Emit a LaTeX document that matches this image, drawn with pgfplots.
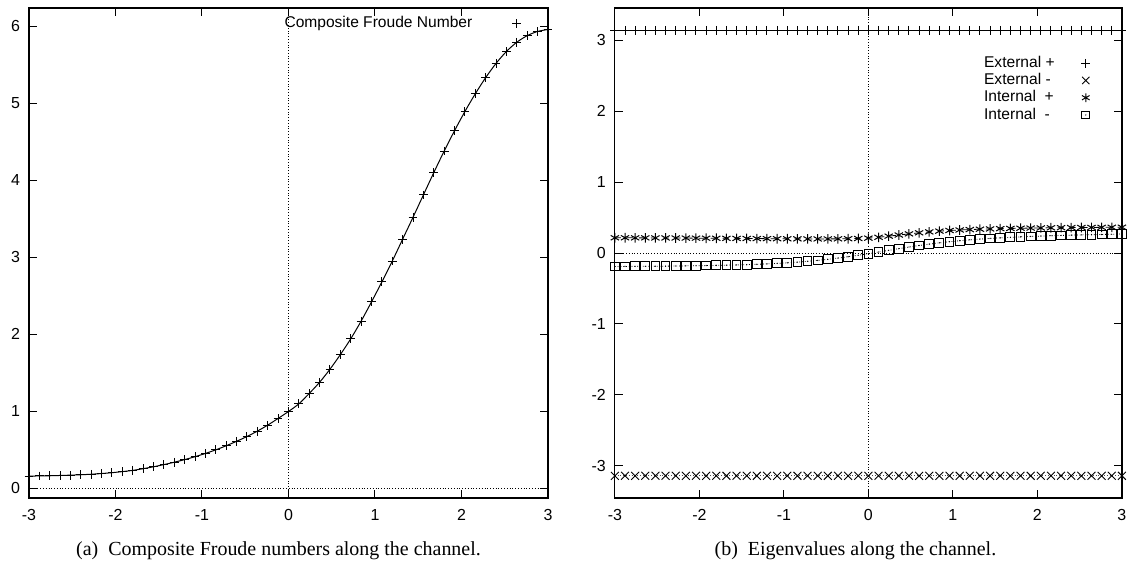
\documentclass[border=0pt]{standalone}
\usepackage{pgfplots}
\pgfplotsset{compat=1.18}
\usepackage{fontspec}
\setmainfont{Liberation Serif}
\newfontfamily\helv{Liberation Sans}
\usetikzlibrary{plotmarks}

\pgfdeclareplotmark{sqdot}{%
  \pgfpathrectangle{\pgfpoint{-\pgfplotmarksize}{-\pgfplotmarksize}}{\pgfpoint{2\pgfplotmarksize}{2\pgfplotmarksize}}%
  \pgfusepathqstroke
  \pgfpathcircle{\pgfpointorigin}{0.35pt}%
  \pgfusepathqfill}

\pgfplotstableread{
x F
-3.00 0.155
-2.88 0.158
-2.76 0.160
-2.64 0.164
-2.52 0.168
-2.40 0.173
-2.28 0.180
-2.16 0.189
-2.04 0.200
-1.92 0.214
-1.80 0.230
-1.68 0.252
-1.56 0.277
-1.44 0.305
-1.32 0.336
-1.20 0.370
-1.08 0.408
-0.96 0.450
-0.84 0.497
-0.72 0.550
-0.60 0.608
-0.48 0.670
-0.36 0.740
-0.24 0.818
-0.12 0.905
0.00 0.995
0.12 1.095
0.24 1.230
0.36 1.375
0.48 1.545
0.60 1.735
0.72 1.940
0.84 2.170
0.96 2.420
1.08 2.680
1.20 2.950
1.32 3.235
1.44 3.520
1.56 3.810
1.68 4.100
1.80 4.380
1.92 4.645
2.04 4.895
2.16 5.125
2.28 5.335
2.40 5.520
2.52 5.675
2.64 5.795
2.76 5.880
2.88 5.935
3.00 5.960
}\froude

\pgfplotstableread{
x Ep Em Ip Im
-3.00 3.1416 -3.1416 0.215 -0.190
-2.88 3.1416 -3.1416 0.215 -0.189
-2.76 3.1416 -3.1416 0.214 -0.188
-2.64 3.1416 -3.1416 0.214 -0.187
-2.52 3.1416 -3.1416 0.213 -0.186
-2.40 3.1416 -3.1416 0.213 -0.185
-2.28 3.1416 -3.1416 0.212 -0.183
-2.16 3.1416 -3.1416 0.211 -0.181
-2.04 3.1416 -3.1416 0.210 -0.179
-1.92 3.1416 -3.1416 0.209 -0.177
-1.80 3.1416 -3.1416 0.208 -0.174
-1.68 3.1416 -3.1416 0.207 -0.171
-1.56 3.1416 -3.1416 0.206 -0.168
-1.44 3.1416 -3.1416 0.205 -0.164
-1.32 3.1416 -3.1416 0.204 -0.159
-1.20 3.1416 -3.1416 0.203 -0.153
-1.08 3.1416 -3.1416 0.202 -0.146
-0.96 3.1416 -3.1416 0.201 -0.138
-0.84 3.1416 -3.1416 0.200 -0.128
-0.72 3.1416 -3.1416 0.199 -0.117
-0.60 3.1416 -3.1416 0.199 -0.104
-0.48 3.1416 -3.1416 0.199 -0.089
-0.36 3.1416 -3.1416 0.200 -0.071
-0.24 3.1416 -3.1416 0.202 -0.052
-0.12 3.1416 -3.1416 0.205 -0.031
0.00 3.1416 -3.1416 0.210 -0.010
0.12 3.1416 -3.1416 0.222 0.014
0.24 3.1416 -3.1416 0.238 0.038
0.36 3.1416 -3.1416 0.254 0.062
0.48 3.1416 -3.1416 0.270 0.085
0.60 3.1416 -3.1416 0.285 0.106
0.72 3.1416 -3.1416 0.298 0.126
0.84 3.1416 -3.1416 0.309 0.144
0.96 3.1416 -3.1416 0.318 0.160
1.08 3.1416 -3.1416 0.325 0.174
1.20 3.1416 -3.1416 0.331 0.186
1.32 3.1416 -3.1416 0.336 0.197
1.44 3.1416 -3.1416 0.340 0.206
1.56 3.1416 -3.1416 0.344 0.214
1.68 3.1416 -3.1416 0.347 0.221
1.80 3.1416 -3.1416 0.350 0.228
1.92 3.1416 -3.1416 0.352 0.234
2.04 3.1416 -3.1416 0.354 0.239
2.16 3.1416 -3.1416 0.356 0.244
2.28 3.1416 -3.1416 0.358 0.248
2.40 3.1416 -3.1416 0.359 0.252
2.52 3.1416 -3.1416 0.360 0.256
2.64 3.1416 -3.1416 0.361 0.259
2.76 3.1416 -3.1416 0.362 0.262
2.88 3.1416 -3.1416 0.363 0.265
3.00 3.1416 -3.1416 0.364 0.268
}\eig

\pgfplotsset{
  gp/.style={
    scale only axis,
    height=245.5pt,
    xmin=-3, xmax=3,
    xtick={-3,-2,-1,0,1,2,3},
    axis line style={line width=0.6pt},
    tick align=inside,
    tick pos=both,
    major tick length=4pt,
    every tick/.style={black, line width=0.5pt},
    minor tick num=0,
    tick label style={font=\helv\fontsize{8}{9}\selectfont},
    /pgf/number format/assume math mode=true,
    yticklabel style={xshift=-1pt},
    xticklabel style={yshift=-2pt},
    clip=false,
    legend plot pos=right,
    legend cell align=left,
    legend style={draw=none, fill=none, font=\helv\fontsize{7.8}{9}\selectfont,
      nodes={text height=6pt, text depth=1.85pt, inner sep=0.4pt},
      row sep=0pt},
  }
}

\begin{document}
\begin{tikzpicture}
\path (0,0) rectangle (566.5pt,287pt);

\begin{axis}[gp,
  at={(14.5pt,37.5pt)}, anchor=south west,
  width=260pt,
  ymin=-0.13, ymax=6.24,
  ytick={0,1,2,3,4,5,6},
  legend style={at={(0.96,0.995)}, anchor=north east, /tikz/column sep=19.5pt},
]
\addplot[black, densely dotted, line width=0.4pt, forget plot] coordinates {(-3,0) (3,0)};
\addplot[black, densely dotted, line width=0.4pt, forget plot] coordinates {(0,-0.13) (0,6.24)};
\addplot[black, line width=0.5pt, no marks, smooth, forget plot] table[x=x, y=F] {\froude};
\addplot[black, only marks, mark=+, mark size=2.2pt, mark options={line width=0.5pt}, forget plot] table[x=x, y=F] {\froude};
\addlegendimage{black, only marks, mark=+, mark size=2.2pt, mark options={line width=0.5pt}}
\addlegendentry{Composite Froude Number}
\end{axis}

\begin{axis}[gp,
  at={(308pt,37.5pt)}, anchor=south west,
  width=254pt,
  ymin=-3.456, ymax=3.456,
  ytick={-3,-2,-1,0,1,2,3},
  legend style={at={(0.95,0.914)}, anchor=north east, /tikz/column sep=13pt},
]
\addplot[black, densely dotted, line width=0.4pt, forget plot] coordinates {(-3,0) (3,0)};
\addplot[black, densely dotted, line width=0.4pt, forget plot] coordinates {(0,-3.456) (0,3.456)};
\addplot[black, line width=0.55pt, mark=+, mark size=2.2pt, mark options={solid, line width=0.5pt}, forget plot] table[x=x, y=Ep] {\eig};
\addplot[black!70, densely dotted, line width=0.4pt, mark=x, mark size=2.8pt, mark options={solid, black, line width=0.45pt}, forget plot] table[x=x, y=Em] {\eig};
\addplot[black, dashed, line width=0.4pt, mark=asterisk, mark size=2.4pt, mark options={solid, line width=0.5pt}, forget plot] table[x=x, y=Ip] {\eig};
\addplot[black, densely dotted, line width=0.4pt, mark=sqdot, mark size=2.2pt, mark options={solid, line width=0.5pt}, forget plot] table[x=x, y=Im] {\eig};
\addlegendimage{black, only marks, mark=+, mark size=2.2pt, mark options={line width=0.5pt}}
\addlegendentry{External +}
\addlegendimage{black, only marks, mark=x, mark size=2.6pt, mark options={line width=0.45pt}}
\addlegendentry{External -}
\addlegendimage{black, only marks, mark=asterisk, mark size=2.2pt, mark options={line width=0.5pt}}
\addlegendentry{Internal\ \ +}
\addlegendimage{black, only marks, mark=sqdot, mark size=1.9pt, mark options={line width=0.5pt}}
\addlegendentry{Internal\ \ -}
\end{axis}

\node[font=\fontsize{10}{12}\selectfont, anchor=center] at (139.5pt,11pt) {(a)\enspace Composite Froude numbers along the channel.};
\node[font=\fontsize{10}{12}\selectfont, anchor=center] at (428.5pt,11pt) {(b)\enspace Eigenvalues along the channel.};
\end{tikzpicture}
\end{document}
